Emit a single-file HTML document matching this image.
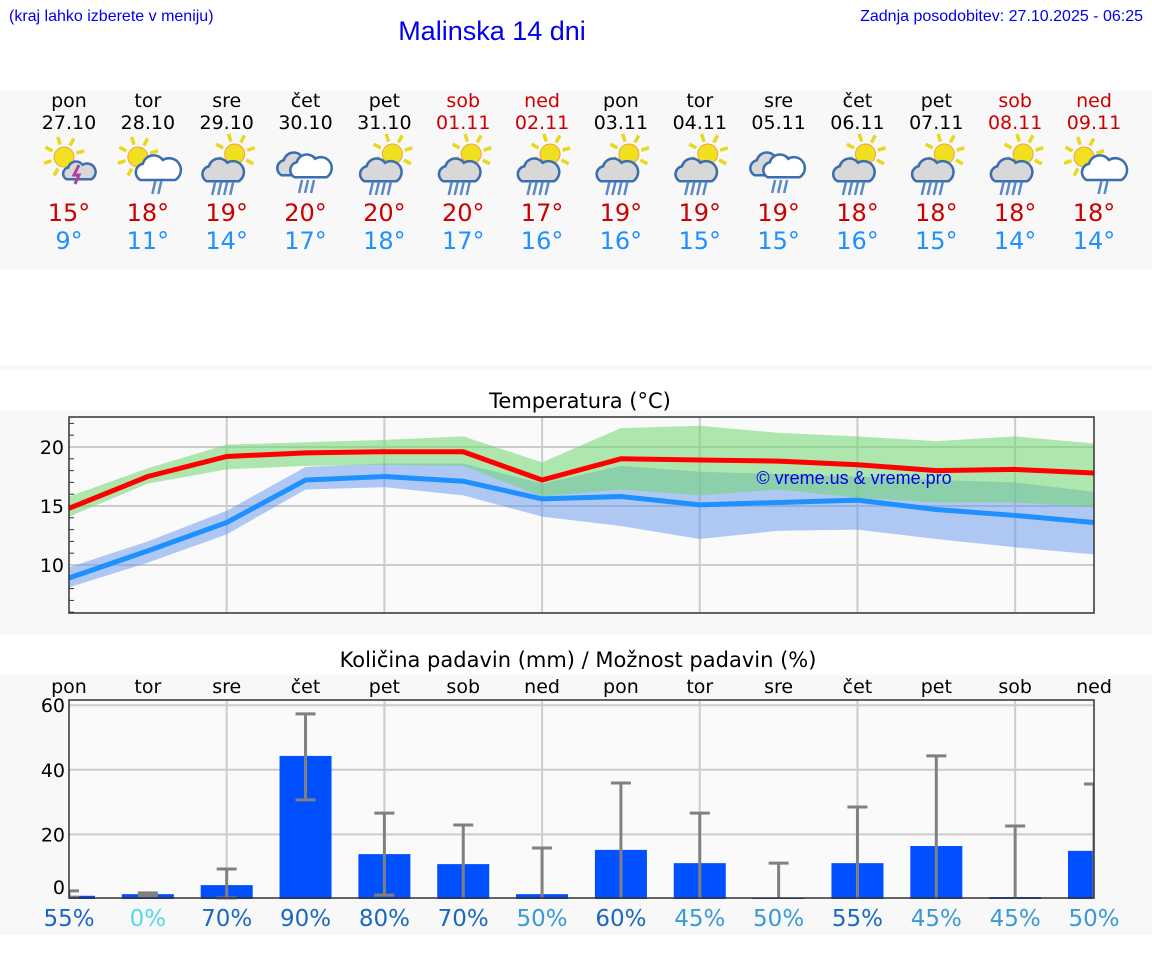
<!DOCTYPE html>
<html><head><meta charset="utf-8"><style>
html,body{margin:0;padding:0;background:#fff;}
body{width:1152px;height:975px;overflow:hidden;font-family:"Liberation Sans","DejaVu Sans",sans-serif;}
svg text{font-family:"DejaVu Sans","Liberation Sans",sans-serif;}
</style></head><body>
<svg id="page" width="1152" height="975" viewBox="0 0 1152 975" xmlns="http://www.w3.org/2000/svg">
<text x="9" y="21" font-size="16" fill="#0000ee" style="font-family:'Liberation Sans',sans-serif">(kraj lahko izberete v meniju)</text>
<text x="492" y="40" font-size="27" fill="#0000ee" text-anchor="middle" style="font-family:'Liberation Sans',sans-serif">Malinska 14 dni</text>
<text x="1143" y="21" font-size="16" fill="#0000ee" text-anchor="end" style="font-family:'Liberation Sans',sans-serif">Zadnja posodobitev: 27.10.2025 - 06:25</text>
<rect x="0" y="90" width="1152" height="180" fill="#f8f8f8"/>
<rect x="0" y="365" width="1152" height="5" fill="#f8f8f8"/>
<g id="days"></g>
<rect x="0" y="410" width="1152" height="225" fill="#f8f8f8"/>
<text x="580" y="408" font-size="21" fill="#000" text-anchor="middle">Temperatura (°C)</text>
<g id="temp"></g>
<rect x="0" y="675" width="1152" height="260" fill="#f8f8f8"/>
<text x="578" y="667" font-size="21" fill="#000" text-anchor="middle">Količina padavin (mm) / Možnost padavin (%)</text>
<g id="prec"></g>
</svg>
<script>
const dayNames=["pon","tor","sre","čet","pet","sob","ned","pon","tor","sre","čet","pet","sob","ned"];
const dates=["27.10","28.10","29.10","30.10","31.10","01.11","02.11","03.11","04.11","05.11","06.11","07.11","08.11","09.11"];
const iconTypes=["ts","sr","cs","cc","cs","cs","cs","cs","cs","cc","cs","cs","cs","sr"];
const dayMax=[15,18,19,20,20,20,17,19,19,19,18,18,18,18];
const dayMin=[9,11,14,17,18,17,16,16,15,15,16,15,14,14];
const tMax=[14.8,17.5,19.2,19.5,19.6,19.6,17.2,19.0,18.9,18.8,18.5,18.0,18.1,17.8];
const tMaxHi=[15.8,18.2,20.2,20.4,20.6,20.9,18.7,21.6,21.8,21.2,20.9,20.5,20.9,20.3];
const tMaxLo=[14.1,16.9,18.1,18.4,18.5,18.4,15.8,16.4,15.9,16.4,15.7,15.3,15.3,14.9];
const tMin=[8.9,11.2,13.6,17.2,17.5,17.1,15.6,15.8,15.1,15.3,15.5,14.7,14.2,13.6];
const tMinHi=[9.8,12.0,14.6,18.3,18.6,18.6,16.9,18.4,17.9,17.7,17.5,17.2,17.0,16.2];
const tMinLo=[8.1,10.2,12.6,16.4,16.6,15.9,14.1,13.3,12.2,12.9,13.0,12.2,11.5,10.9];
const tTicks=[10,15,20];
const precip=[1.0,1.5,4.3,44.3,13.9,10.8,1.5,15.2,11.1,0.3,11.1,16.4,0.6,14.9];
const precipHi=[2.5,1.9,9.3,57.3,26.6,22.9,15.8,35.9,26.6,11.1,28.5,44.3,22.6,35.6];
const precipLo=[0.5,1.0,0.3,30.7,1.2,0,0,0,0,0,0,0,0,0];
const chance=[55,0,70,90,80,70,50,60,45,50,55,45,45,50];
const pTicks=[0,20,40,60];
const NS="http://www.w3.org/2000/svg";
function mk(tag,attrs,parent,txt){const e=document.createElementNS(NS,tag);for(const k in attrs)e.setAttribute(k,attrs[k]);if(txt!==undefined)e.textContent=txt;parent.appendChild(e);return e;}
const X0=69,X1=1094;
const xd=i=>X0+i*(X1-X0)/13;
const gd=document.getElementById('days');
function sun(g,cx,cy,r){for(let a=0;a<8;a++){const an=a*Math.PI/4-0.3;mk('line',{x1:cx+Math.cos(an)*(r+3),y1:cy+Math.sin(an)*(r+3),x2:cx+Math.cos(an)*(r+11),y2:cy+Math.sin(an)*(r+11),stroke:'#e8d820','stroke-width':3.5},g);}mk('circle',{cx:cx,cy:cy,r:r,fill:'#f0e020',stroke:'#f0a040','stroke-width':1},g);}
function cloud(g,cx,cy,s,fill){mk('path',{d:`M${cx-14*s},${cy+8*s} a${7*s},${7*s} 0 0 1 ${2*s},${-13*s} a${9*s},${9*s} 0 0 1 ${16*s},${-3*s} a${7*s},${7*s} 0 0 1 ${10*s},${16*s} z`,fill:fill,stroke:'#3a6eb0','stroke-width':2.5},g);}
function rain(g,cx,cy,n){for(let k=0;k<n;k++){mk('line',{x1:cx+k*6-(n-1)*3+1.5,y1:cy,x2:cx+k*6-(n-1)*3-1.5,y2:cy+13,stroke:'#5a88c8','stroke-width':2.5},g);}}
for(let i=0;i<14;i++){
  const x=xd(i);const we=(i%7>=5);
  const g=mk('g',{},gd);
  
  
  mk('text',{x:x,y:107,'font-size':19,'text-anchor':'middle',fill:we?'#cc0000':'#000'},g,dayNames[i]);
  mk('text',{x:x,y:129,'font-size':19,'text-anchor':'middle',fill:we?'#cc0000':'#000'},g,dates[i]);
  const ic=mk('g',{},g);
  
  
  const t=iconTypes[i];
  if(t==='ts'){sun(ic,x-5,157,10);cloud(ic,x+10,172,0.9,'#d8d8d8');mk('path',{d:`M${x+10},${165} l-5,10 h5 l-4,9`,stroke:'#b040a0','stroke-width':3,fill:'none'},ic);}
  else if(t==='sr'){sun(ic,x-10,157,10);cloud(ic,x+10,170,1.25,'#fff');rain(ic,x+9,181,2);}
  else if(t==='cs'){sun(ic,x+8,154,10);cloud(ic,x-4,172,1.15,'#d8d8d8');rain(ic,x-4,182,4);}
  else {cloud(ic,x-8,166,1.15,'#d8d8d8');cloud(ic,x+5,168,1.15,'#fff');rain(ic,x+1,180,3);}
  mk('text',{x:x,y:221,'font-size':24,'text-anchor':'middle',fill:'#cc0000'},g,dayMax[i]+'°');
  mk('text',{x:x,y:249,'font-size':24,'text-anchor':'middle',fill:'#1e90ff'},g,dayMin[i]+'°');
}
const gt=document.getElementById('temp');
const TY0=417,TY1=613;
const ty=v=>447+(20-v)*11.8;
mk('rect',{x:X0,y:TY0,width:X1-X0,height:TY1-TY0,fill:'#fafafa'},gt);
for(let i=2;i<14;i+=2)mk('line',{x1:xd(i),x2:xd(i),y1:TY0,y2:TY1,stroke:'#ccc','stroke-width':2},gt);
for(let v=6;v<=22;v++){mk('line',{x1:X0,x2:X0+5,y1:ty(v),y2:ty(v),stroke:'#333','stroke-width':1},gt);}
tTicks.forEach(v=>{mk('line',{x1:X0,x2:X1,y1:ty(v),y2:ty(v),stroke:'#ccc','stroke-width':2},gt);const l=mk('text',{x:X0-5,y:ty(v)+7,'font-size':19,'text-anchor':'end',fill:'#000'},gt,String(v));});
function band(hi,lo,fill,name){let d='M'+hi.map((v,i)=>xd(i)+','+ty(v)).join(' L')+' L'+lo.map((v,i)=>xd(i)+','+ty(v)).reverse().join(' L')+' Z';const p=mk('path',{d:d,fill:fill},gt);}
band(tMinHi,tMinLo,'rgba(100,150,235,0.5)','min-temp-range');
band(tMaxHi,tMaxLo,'rgba(110,215,110,0.55)','max-temp-range');
const lmax=mk('polyline',{points:tMax.map((v,i)=>xd(i)+','+ty(v)).join(' '),fill:'none',stroke:'#ff0000','stroke-width':5},gt);

const lmin=mk('polyline',{points:tMin.map((v,i)=>xd(i)+','+ty(v)).join(' '),fill:'none',stroke:'#1e90ff','stroke-width':5},gt);

const wm=mk('text',{x:854,y:484,'font-size':18,'text-anchor':'middle',fill:'#0000ee',style:"font-family:'Liberation Sans',sans-serif"},gt,'© vreme.us & vreme.pro');

mk('rect',{x:X0,y:TY0,width:X1-X0,height:TY1-TY0,fill:'none',stroke:'#333','stroke-width':1.5},gt);
const gp=document.getElementById('prec');
const PY0=700,PY1=898;
const py=v=>899-v*3.23;
mk('rect',{x:X0,y:PY0,width:X1-X0,height:PY1-PY0,fill:'#fafafa'},gp);
for(let i=2;i<14;i+=2)mk('line',{x1:xd(i),x2:xd(i),y1:PY0,y2:PY1,stroke:'#ccc','stroke-width':2},gp);
pTicks.forEach(v=>{if(v>0)mk('line',{x1:X0,x2:X1,y1:py(v),y2:py(v),stroke:'#ccc','stroke-width':2},gp);const l=mk('text',{x:X0-4,y:py(v)+(v===0?-5:7),'font-size':19,'text-anchor':'end',fill:'#000'},gp,String(v));});
const clip=mk('clipPath',{id:'pc'},gp);mk('rect',{x:X0,y:PY0,width:X1-X0,height:PY1-PY0+2},clip);
const inner=mk('g',{'clip-path':'url(#pc)'},gp);
for(let i=0;i<14;i++){
  const x=xd(i);
  const lab=mk('text',{x:x,y:693,'font-size':19,'text-anchor':'middle',fill:'#000'},gp,dayNames[i]);
  
  const b=mk('rect',{x:x-26,y:py(precip[i]),width:52,height:py(0)-py(precip[i]),fill:'#0050ff'},inner);
  
  const e=mk('g',{},inner);
  
  mk('line',{x1:x,x2:x,y1:py(precipHi[i]),y2:py(precipLo[i]),stroke:'#808080','stroke-width':3},e);
  mk('line',{x1:x-10,x2:x+10,y1:py(precipHi[i]),y2:py(precipHi[i]),stroke:'#808080','stroke-width':3},e);
  if(precipLo[i]>0)mk('line',{x1:x-10,x2:x+10,y1:py(precipLo[i]),y2:py(precipLo[i]),stroke:'#808080','stroke-width':3},e);
  const c=chance[i];const col=c===0?'#55d8ea':(c<=50?'#3a9ad8':'#1a68c0');
  const t=mk('text',{x:x,y:926,'font-size':23,'text-anchor':'middle',fill:col},gp,c+'%');
  
}
mk('rect',{x:X0,y:PY0,width:X1-X0,height:PY1-PY0,fill:'none',stroke:'#333','stroke-width':1.5},gp);
</script>
</body></html>
